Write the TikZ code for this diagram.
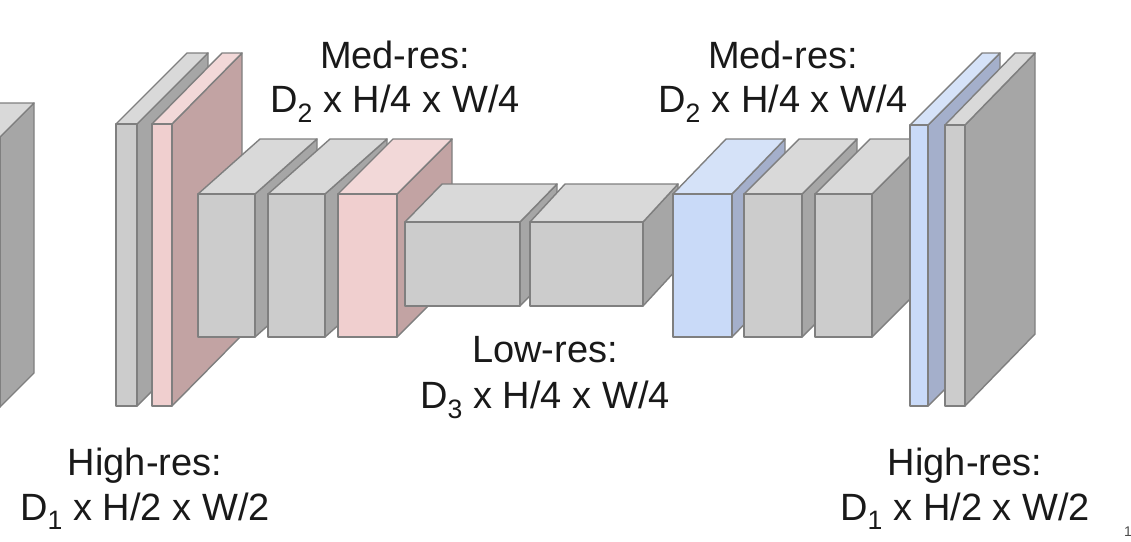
\documentclass[tikz,border=0pt]{standalone}
\usepackage{fontspec}
\setmainfont{Liberation Sans}
\usepackage{tikz}
\definecolor{greyF}{HTML}{CCCCCC}
\definecolor{greyS}{HTML}{A6A6A6}
\definecolor{greyT}{HTML}{D9D9D9}
\definecolor{pinkF}{HTML}{F0CFCF}
\definecolor{pinkS}{HTML}{C2A3A3}
\definecolor{pinkT}{HTML}{F2D8D8}
\definecolor{blueF}{HTML}{C9DAF8}
\definecolor{blueS}{HTML}{A4AFCB}
\definecolor{blueT}{HTML}{D5E2F8}
\definecolor{edge}{HTML}{7F7F7F}
\tikzset{face/.style = {draw = edge, line width = 1.4pt, line join = round},
  lbl/.style = {font = \fontsize{38}{44}\selectfont, text = black!90, align = center, inner sep = 0pt}}
% front x1 y1 x2 y2, depth dx dy, colour
\newcommand{\layer}[7]{%
\filldraw[face, fill=#7S] (#3,#2) -- ++(#5,-#6) -- ++(0,#4-#2) -- (#3,#4) -- cycle;
\filldraw[face, fill=#7T] (#1,#2) -- ++(#5,-#6) -- ++(#3-#1,0) -- (#3,#2) -- cycle;
\filldraw[face, fill=#7F] (#1,#2) rectangle (#3,#4);}

\begin{document}
\begin{tikzpicture}[x=1pt, y=-1pt]
\useasboundingbox (0,0) rectangle (1131,541);
\begin{scope}
\clip (0,0) rectangle (1131,541);
\layer{-60}{137}{0}{407}{34}{34}{grey}
\end{scope}
% encoder
\layer{116}{124}{137}{406}{71}{71}{grey}
\layer{152}{124}{172}{406}{70}{71}{pink}
\layer{198}{194}{255}{337}{62}{55}{grey}
\layer{268}{194}{325}{337}{62}{55}{grey}
\layer{338}{194}{397}{337}{55}{55}{pink}
% bottleneck
\layer{405}{222}{520}{306}{37}{38}{grey}
\layer{530}{222}{643}{306}{35}{38}{grey}
% decoder
\layer{673}{194}{732}{337}{53}{55}{blue}
\layer{744}{194}{802}{337}{55}{55}{grey}
\layer{815}{194}{872}{337}{55}{55}{grey}
\layer{910}{125}{928}{406}{72}{72}{blue}
\layer{945}{125}{965}{406}{70}{72}{grey}
% labels
\node[lbl, anchor=base] (medL) at (395,68) {Med-res:};
\node[lbl, anchor=base] (medLd) at (395,112) {D\textsubscript{2} x H/4 x W/4};
\node[lbl, anchor=base] (medR) at (783,68) {Med-res:};
\node[lbl, anchor=base] (medRd) at (783,112) {D\textsubscript{2} x H/4 x W/4};
\node[lbl, anchor=base] (low) at (545,362) {Low-res:};
\node[lbl, anchor=base] (lowd) at (545,408) {D\textsubscript{3} x H/4 x W/4};
\node[lbl, anchor=base] (highL) at (145,475) {High-res:};
\node[lbl, anchor=base] (highLd) at (145,520) {D\textsubscript{1} x H/2 x W/2};
\node[lbl, anchor=base] (highR) at (965,475) {High-res:};
\node[lbl, anchor=base] (highRd) at (965,520) {D\textsubscript{1} x H/2 x W/2};
\node[font=\fontsize{14}{16}\selectfont, text=black!70, anchor=base west, inner sep=0pt] (page) at (1124,536) {1};
\end{tikzpicture}
\end{document}
